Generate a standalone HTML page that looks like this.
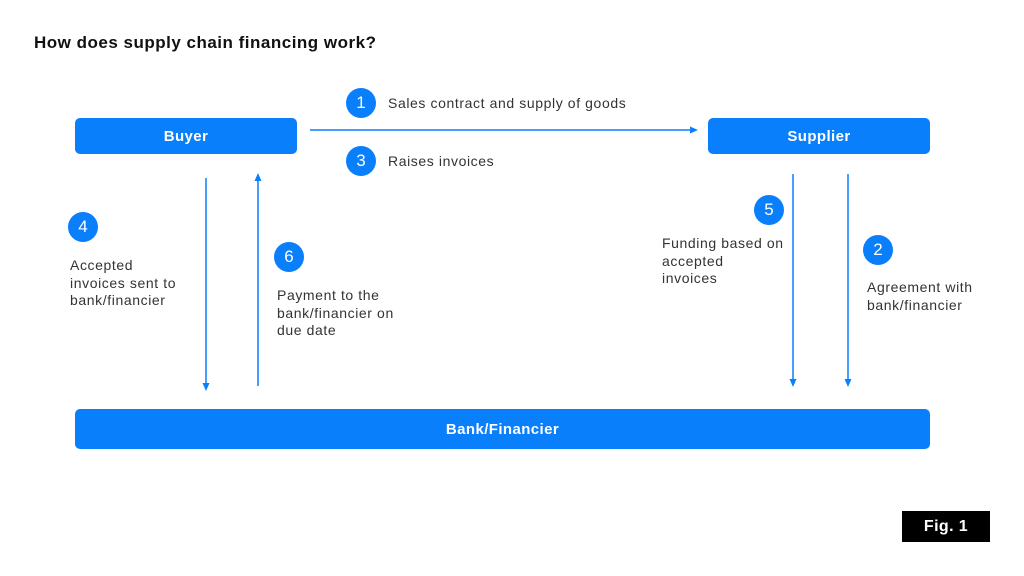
<!DOCTYPE html>
<html><head><style>
body{margin:0;width:1024px;height:576px;background:#fff;position:relative;font-family:"Liberation Sans",sans-serif;overflow:hidden}
.a{position:absolute}
.box{position:absolute;background:#0a7ffb;border-radius:5px;color:#fff;font-weight:bold;font-size:15px;letter-spacing:0.4px;display:flex;align-items:center;justify-content:center}
.c{position:absolute;width:30px;height:30px;border-radius:50%;background:#0a7ffb;color:#fff;font-size:17px;display:flex;align-items:center;justify-content:center}
.t{position:absolute;font-size:14px;letter-spacing:0.6px;color:#333;line-height:17.5px}
</style></head><body>
<div class="a" style="left:34px;top:33px;font-size:17px;letter-spacing:0.5px;font-weight:bold;color:#111">How does supply chain financing work?</div>
<div class="box" style="left:75px;top:118px;width:222px;height:36px">Buyer</div>
<div class="box" style="left:708px;top:118px;width:222px;height:36px">Supplier</div>
<div class="box" style="left:75px;top:409px;width:855px;height:40px">Bank/Financier</div>
<svg class="a" style="left:0;top:0" width="1024" height="576">
<g stroke="#0a7ffb" stroke-width="1.5" fill="#0a7ffb">
<line x1="310" y1="130" x2="692" y2="130"/><path d="M698 130 L690 126.5 L690 133.5Z" stroke="none"/>
<line x1="206" y1="178" x2="206" y2="386"/><path d="M206 391 L202.5 383 L209.5 383Z" stroke="none"/>
<line x1="258" y1="180" x2="258" y2="386"/><path d="M258 173 L254.5 181 L261.5 181Z" stroke="none"/>
<line x1="793" y1="174" x2="793" y2="382"/><path d="M793 387 L789.5 379 L796.5 379Z" stroke="none"/>
<line x1="848" y1="174" x2="848" y2="382"/><path d="M848 387 L844.5 379 L851.5 379Z" stroke="none"/>
</g></svg>
<div class="c" style="left:346px;top:88px">1</div>
<div class="t" style="left:388px;top:95px">Sales contract and supply of goods</div>
<div class="c" style="left:346px;top:146px">3</div>
<div class="t" style="left:388px;top:153px">Raises invoices</div>
<div class="c" style="left:68px;top:212px">4</div>
<div class="t" style="left:70px;top:257px">Accepted<br>invoices sent to<br>bank/financier</div>
<div class="c" style="left:274px;top:242px">6</div>
<div class="t" style="left:277px;top:287px">Payment to the<br>bank/financier on<br>due date</div>
<div class="c" style="left:754px;top:195px">5</div>
<div class="t" style="left:662px;top:235px">Funding based on<br>accepted<br>invoices</div>
<div class="c" style="left:863px;top:235px">2</div>
<div class="t" style="left:867px;top:279px">Agreement with<br>bank/financier</div>
<div class="box" style="left:902px;top:511px;width:88px;height:31px;background:#000;border-radius:0;font-size:16px">Fig. 1</div>
</body></html>
